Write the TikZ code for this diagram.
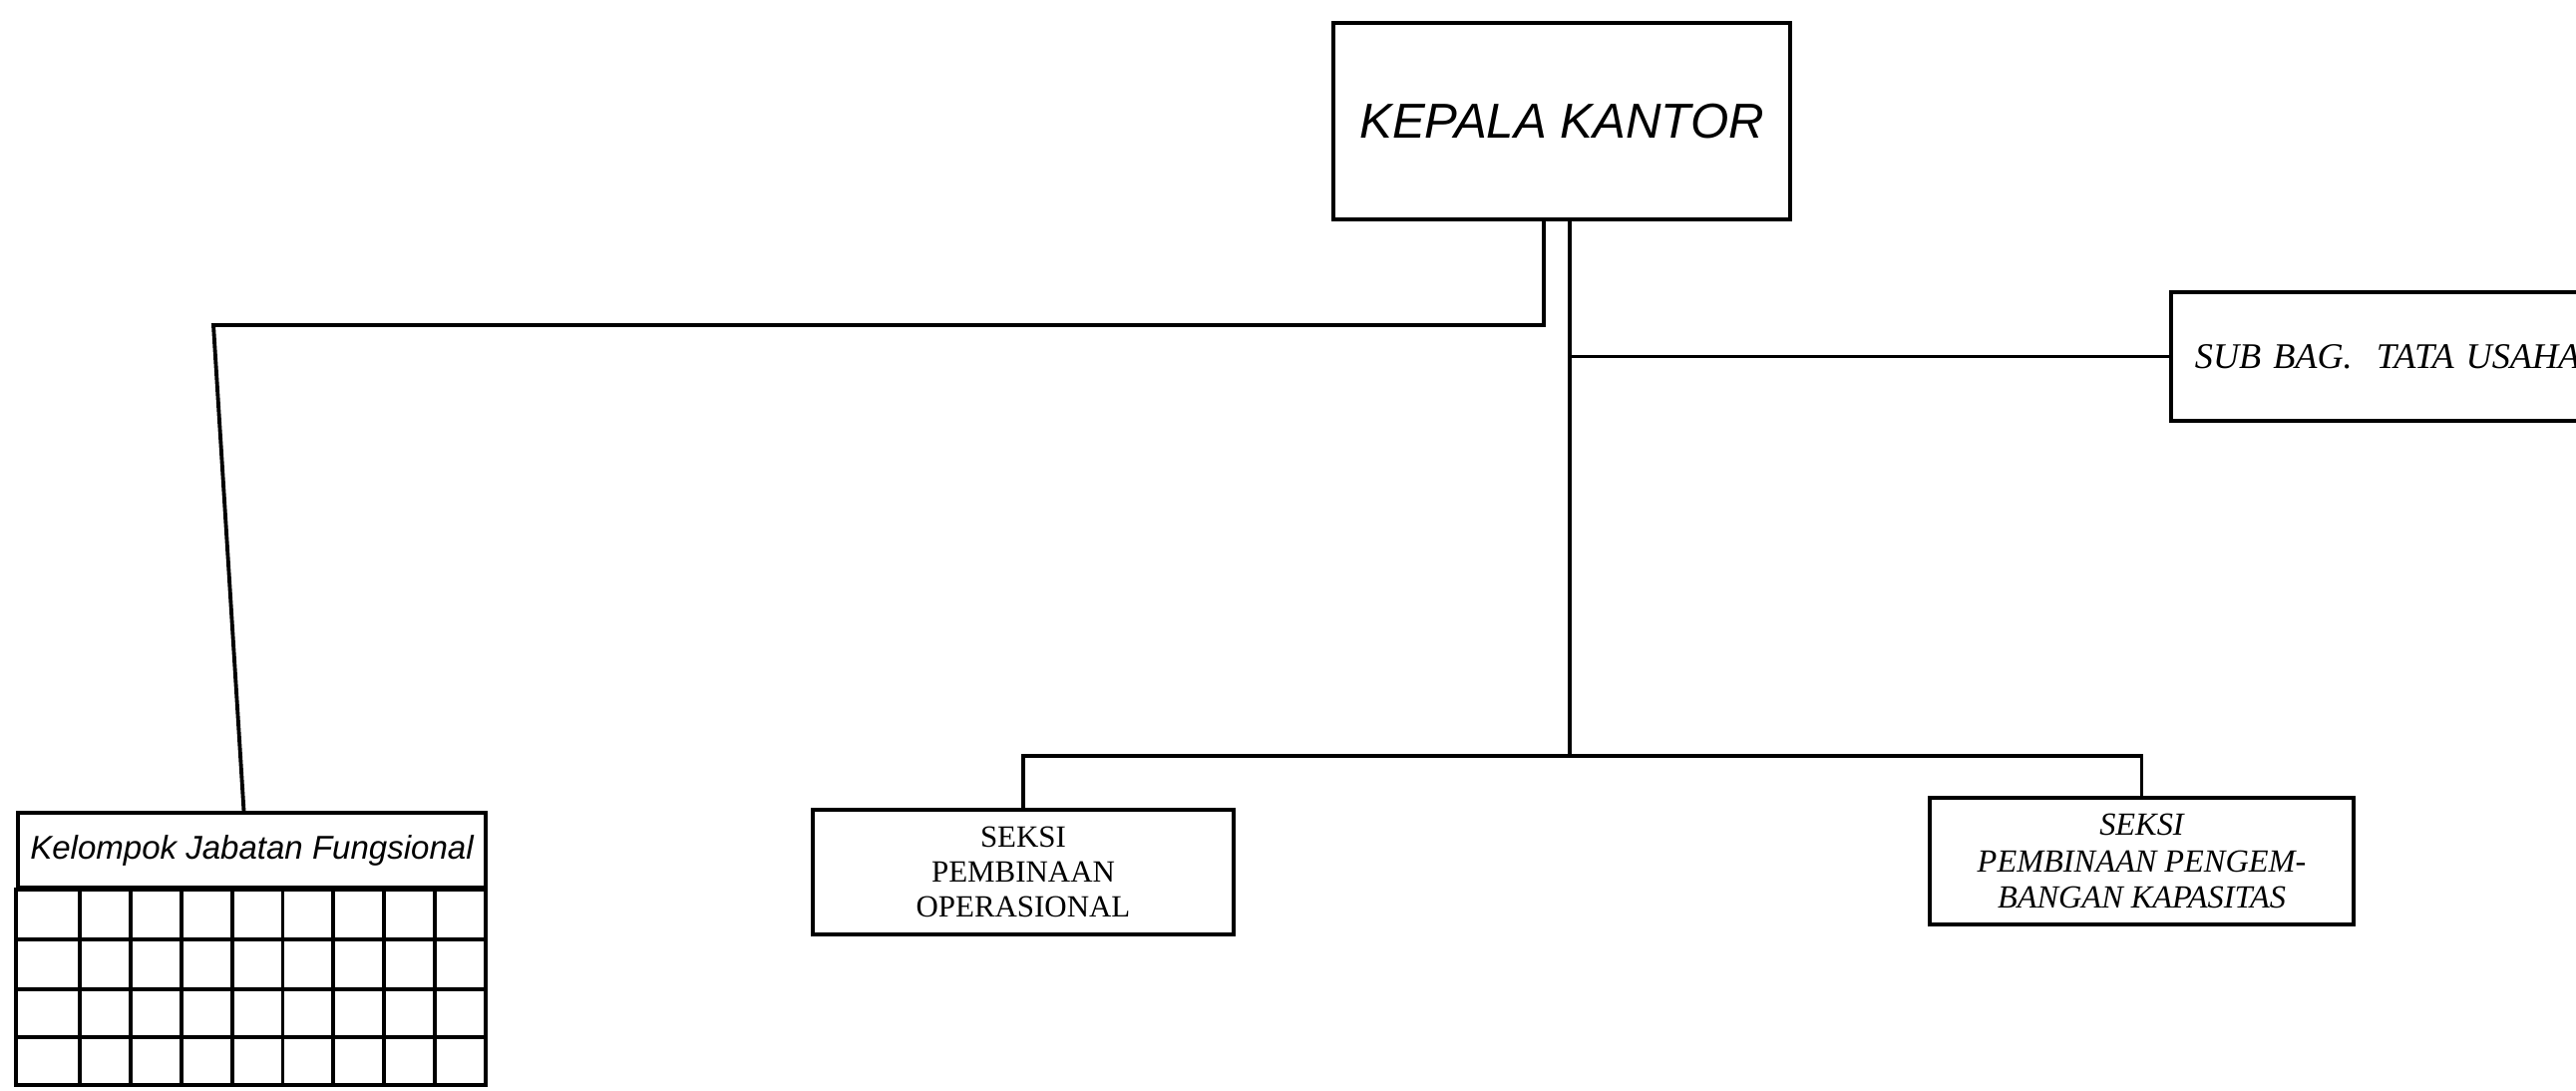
\documentclass[tikz,border=0pt]{standalone}
\usepackage{fontspec}
\setmainfont{Liberation Serif}
\newfontfamily\orgsans{Liberation Sans}
\usetikzlibrary{positioning, calc}

\begin{document}
\begin{tikzpicture}[
    unitbox/.style={draw, line width=1.1pt, inner sep=0pt, align=center},
    orgline/.style={line width=1.1pt}
  ]
  \useasboundingbox (0,0) rectangle (25.83,10.94);

  % Kepala Kantor (top)
  \node[unitbox, minimum width=4.58cm, minimum height=1.97cm,
        font=\orgsans\itshape\fontsize{14}{16}\selectfont] (kk) at (15.66,9.725)
       {KEPALA KANTOR};

  % Sub Bagian Tata Usaha (right, runs off the page)
  \node[unitbox, anchor=west, minimum height=1.29cm, text width=4.35cm,
        inner xsep=0.24cm, align=left,
        font=\itshape\fontsize{10.3}{12}\selectfont] (sub) at (21.75,7.365)
       {SUB BAG.\ \ TATA USAHA};

  % Seksi boxes
  \node[unitbox, minimum width=4.22cm, minimum height=1.25cm,
        font=\fontsize{8.8}{10}\selectfont] (op) at (10.26,2.195)
       {SEKSI\\PEMBINAAN\\OPERASIONAL};
  \node[unitbox, minimum width=4.25cm, minimum height=1.27cm,
        font=\itshape\fontsize{9.2}{10.5}\selectfont] (pp) at (21.475,2.305)
       {SEKSI\\PEMBINAAN PENGEM-\\BANGAN KAPASITAS};

  % Kelompok Jabatan Fungsional + grid
  \node[unitbox, minimum width=4.69cm, minimum height=0.75cm,
        font=\orgsans\itshape\fontsize{9.4}{11}\selectfont] (kjf) at (2.525,2.415)
       {Kelompok Jabatan Fungsional};
  \draw[orgline] (kjf.south west) rectangle (4.87,0.06);
  \foreach \cx in {0,...,7}
    \draw[orgline] ({0.80+0.50875*\cx},0.06) -- ({0.80+0.50875*\cx},2.04);
  \foreach \ry in {0.54,1.02,1.52}
    \draw[orgline] (0.18,\ry) -- (4.87,\ry);

  % Connectors
  \coordinate (kkleft) at ([xshift=-0.18cm]kk.south);
  \coordinate (bend) at (2.14,7.68);
  \draw[orgline] (kkleft) |- (bend) -- ([xshift=-0.08cm]kjf.north);

  \coordinate (trunktop) at ([xshift=0.08cm]kk.south);
  \coordinate (trunkbot) at (15.74,3.36);
  \draw[orgline] (trunktop) -- (trunkbot);
  \draw[orgline] (sub.west) -- (sub.west -| trunktop);
  \draw[orgline] (op.north) |- (trunkbot) -| (pp.north);
\end{tikzpicture}
\end{document}
